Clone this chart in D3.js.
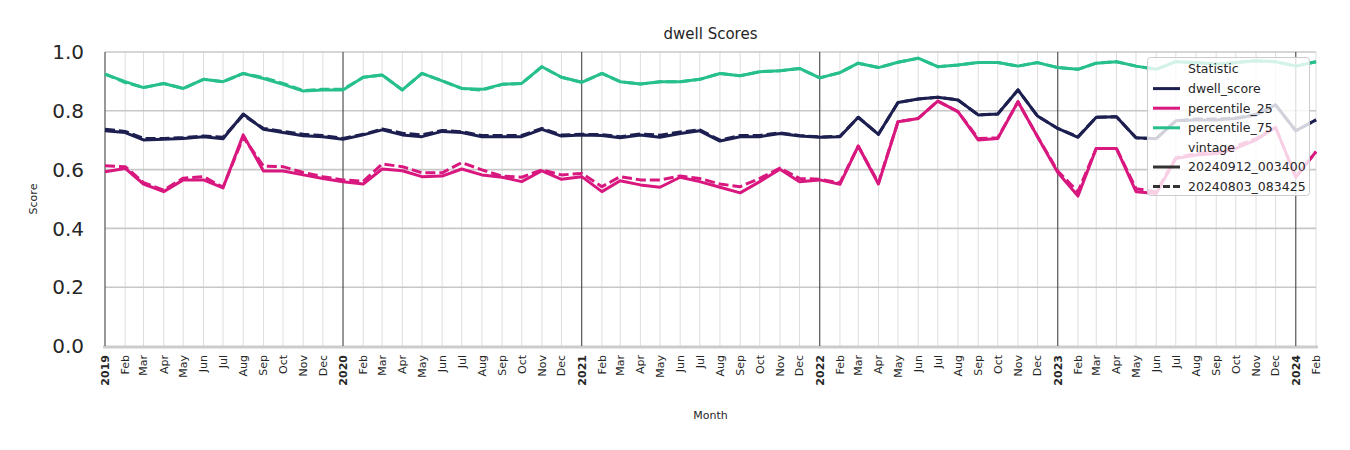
<!DOCTYPE html>
<html><head><meta charset="utf-8">
<script src="https://cdn.jsdelivr.net/npm/d3@7"></script>
<style>body{margin:0;background:#fff}svg{display:block;font-family:"DejaVu Sans",sans-serif}</style>
</head><body><svg id="c" width="1350" height="450"></svg>
<script>
const startYear = 2019, startMonth = 0, nMonths = 62;
const monthLabels = ["Jan","Feb","Mar","Apr","May","Jun","Jul","Aug","Sep","Oct","Nov","Dec"];
const yTicks = [0.0, 0.2, 0.4, 0.6, 0.8, 1.0];
const statistics = ["dwell_score","percentile_25","percentile_75"];
const vintages = ["20240912_003400","20240803_083425"];

const dwell_912 = [0.732,0.726,0.701,0.703,0.706,0.712,0.705,0.789,0.737,0.726,0.715,0.712,
 0.703,0.718,0.735,0.718,0.712,0.730,0.726,0.712,0.712,0.712,0.737,0.714,
 0.718,0.716,0.708,0.718,0.710,0.723,0.732,0.697,0.712,0.712,0.723,0.714,
 0.710,0.712,0.778,0.720,0.828,0.840,0.846,0.837,0.786,0.789,0.871,0.782,
 0.740,0.710,0.778,0.780,0.708,0.705,0.766,0.769,0.769,0.774,0.786,0.820,
 0.732,0.769];
const dwell_803 = [0.737,0.730,0.706,0.706,0.709,0.714,0.710,0.785,0.740,0.730,0.720,0.716,
 0.706,0.720,0.738,0.724,0.718,0.733,0.729,0.716,0.716,0.716,0.740,0.718,
 0.720,0.719,0.712,0.721,0.717,0.728,0.735,0.700,0.716,0.716,0.725,0.716,
 0.711,0.713,0.778,0.720,0.828,0.840,0.846,0.837,0.786,0.789,0.871,0.782,
 0.740,0.712,0.778,0.780,0.708,0.705,0.766,0.772,0.772,0.776,0.788,0.820,
 0.732,0.769];
const p25_912 = [0.593,0.604,0.551,0.525,0.565,0.565,0.538,0.718,0.595,0.595,0.582,0.570,
 0.559,0.551,0.602,0.596,0.576,0.578,0.602,0.582,0.574,0.559,0.596,0.567,
 0.576,0.525,0.562,0.548,0.540,0.574,0.559,0.540,0.521,0.559,0.601,0.559,
 0.565,0.550,0.680,0.551,0.763,0.774,0.833,0.797,0.701,0.706,0.831,0.712,
 0.590,0.510,0.672,0.672,0.525,0.519,0.638,0.650,0.655,0.672,0.701,0.744,
 0.574,0.661];
const p25_803 = [0.613,0.610,0.556,0.530,0.571,0.576,0.540,0.710,0.612,0.610,0.590,0.576,
 0.565,0.560,0.619,0.610,0.589,0.589,0.624,0.599,0.578,0.574,0.599,0.582,
 0.587,0.542,0.576,0.565,0.565,0.578,0.570,0.551,0.542,0.570,0.605,0.570,
 0.567,0.555,0.680,0.555,0.763,0.774,0.833,0.797,0.706,0.708,0.831,0.712,
 0.595,0.525,0.672,0.672,0.535,0.525,0.640,0.655,0.660,0.680,0.705,0.744,
 0.574,0.661];
const p75_912 = [0.925,0.899,0.879,0.893,0.876,0.907,0.899,0.927,0.910,0.890,0.867,0.871,
 0.871,0.914,0.922,0.871,0.927,0.902,0.876,0.873,0.890,0.893,0.950,0.914,
 0.897,0.927,0.899,0.891,0.899,0.899,0.907,0.927,0.919,0.933,0.936,0.944,
 0.912,0.930,0.962,0.947,0.965,0.979,0.950,0.956,0.964,0.964,0.952,0.964,
 0.947,0.941,0.962,0.967,0.952,0.941,0.967,0.964,0.959,0.964,0.970,0.967,
 0.952,0.967];
const p75_803 = [0.925,0.896,0.879,0.893,0.876,0.907,0.899,0.927,0.913,0.893,0.869,0.873,
 0.873,0.914,0.922,0.871,0.927,0.902,0.876,0.870,0.890,0.893,0.950,0.914,
 0.897,0.927,0.899,0.891,0.899,0.899,0.907,0.927,0.919,0.933,0.936,0.944,
 0.912,0.930,0.962,0.947,0.965,0.979,0.950,0.956,0.964,0.964,0.952,0.964,
 0.947,0.941,0.962,0.967,0.952,0.941,0.967,0.964,0.959,0.964,0.970,0.967,
 0.952,0.967];

const colors = {dwell_score:"#1d1f50", percentile_25:"#d8187f", percentile_75:"#27c08d"};
const seriesList = [
  {stat:"dwell_score", vin:0, values:dwell_912},
  {stat:"percentile_25", vin:0, values:p25_912},
  {stat:"percentile_75", vin:0, values:p75_912},
  {stat:"dwell_score", vin:1, values:dwell_803},
  {stat:"percentile_25", vin:1, values:p25_803},
  {stat:"percentile_75", vin:1, values:p75_803}
];

const dates = d3.range(nMonths).map(i => new Date(Date.UTC(startYear, startMonth + i, 1)));

const L = 105, R = 1316, T = 52, B = 346;
const x = d3.scaleUtc().domain([dates[0], dates[dates.length-1]]).range([L, R]);
const y = d3.scaleLinear().domain([0, 1]).range([B, T]);
const svg = d3.select("#c");
const txt = "#262626";

// monthly minor grid
svg.append("g").selectAll("line").data(dates.filter(d => d.getUTCMonth() !== 0)).join("line")
  .attr("x1", d => x(d)).attr("x2", d => x(d)).attr("y1", T).attr("y2", B)
  .attr("stroke", "#dedede").attr("stroke-width", 1);
// horizontal grid
svg.append("g").selectAll("line").data(yTicks.filter(v => v > 0)).join("line")
  .attr("x1", L).attr("x2", R).attr("y1", d => y(d)).attr("y2", d => y(d))
  .attr("stroke", "#c8c8c8").attr("stroke-width", 1.6);
// bottom line
svg.append("line").attr("x1", L - 2).attr("x2", R + 2).attr("y1", y(0) + 1).attr("y2", y(0) + 1)
  .attr("stroke", "#cccccc").attr("stroke-width", 3);
// year lines
svg.append("g").selectAll("line").data(dates.filter(d => d.getUTCMonth() === 0)).join("line")
  .attr("x1", d => x(d)).attr("x2", d => x(d)).attr("y1", T).attr("y2", B)
  .attr("stroke", "#444").attr("stroke-width", 1.1);

// y axis labels
svg.append("g").selectAll("text").data(yTicks).join("text")
  .attr("x", 84).attr("y", d => y(d)).attr("dy", "0.36em")
  .attr("text-anchor", "end").attr("font-size", 20).attr("fill", txt)
  .text(d => d.toFixed(1));

// x tick labels
svg.append("g").selectAll("text").data(dates).join("text")
  .attr("transform", d => `translate(${x(d)},355) rotate(-90)`)
  .attr("dy", "0.35em").attr("text-anchor", "end").attr("font-size", 11)
  .attr("font-weight", d => d.getUTCMonth() === 0 ? "bold" : "normal")
  .attr("fill", txt)
  .text(d => d.getUTCMonth() === 0 ? d.getUTCFullYear() : monthLabels[d.getUTCMonth()]);

// lines
const line = d3.line().x((d, i) => x(dates[i])).y(d => y(d));
svg.append("g").selectAll("path").data(seriesList).join("path")
  .attr("d", s => line(s.values)).attr("fill", "none")
  .attr("stroke", s => colors[s.stat]).attr("stroke-width", 3)
  .attr("stroke-linejoin", "round")
  .attr("stroke-dasharray", s => s.vin === 1 ? "10,4" : null);

// titles
svg.append("text").attr("x", (L + R) / 2).attr("y", 39).attr("text-anchor", "middle")
  .attr("font-size", 15).attr("fill", txt).text("dwell Scores");
svg.append("text").attr("x", (L + R) / 2).attr("y", 419).attr("text-anchor", "middle")
  .attr("font-size", 11).attr("fill", txt).text("Month");
svg.append("text").attr("transform", `translate(37,${(T + B) / 2}) rotate(-90)`)
  .attr("text-anchor", "middle").attr("font-size", 11).attr("fill", txt).text("Score");

// legend
const lg = svg.append("g");
lg.append("rect").attr("x", 1147.5).attr("y", 57.5).attr("width", 162).attr("height", 138).attr("rx", 3)
  .attr("fill", "#fff").attr("fill-opacity", 0.8).attr("stroke", "#cccccc");
const entries = [
  {label:"Statistic"},
  {label:statistics[0], color:colors.dwell_score},
  {label:statistics[1], color:colors.percentile_25},
  {label:statistics[2], color:colors.percentile_75},
  {label:"vintage"},
  {label:vintages[0], color:"#333333"},
  {label:vintages[1], color:"#333333", dash:"7,3"}
];
entries.forEach((e, i) => {
  const yy = 69 + i * 19.6;
  if (e.color) lg.append("line").attr("x1", 1153).attr("x2", 1180).attr("y1", yy).attr("y2", yy)
    .attr("stroke", e.color).attr("stroke-width", 3).attr("stroke-dasharray", e.dash || null);
  lg.append("text").attr("x", 1188).attr("y", yy).attr("dy", "0.35em").attr("font-size", 12.5)
    .attr("fill", txt).text(e.label);
});
</script></body></html>
